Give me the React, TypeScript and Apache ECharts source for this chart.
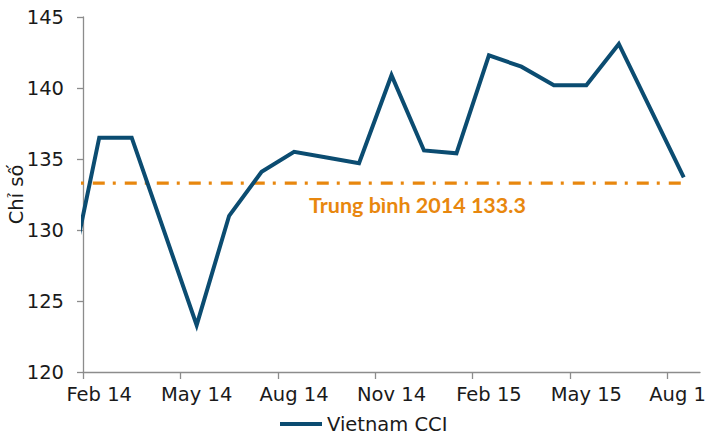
import React, { useEffect, useRef } from "react";
import * as echarts from "echarts";

// Monthly points, Jan 14 .. Aug 15 (Jan 14 lies left of the plot and is clipped)
const months = [
  "Jan 14", "Feb 14", "Mar 14", "Apr 14", "May 14", "Jun 14", "Jul 14", "Aug 14",
  "Sep 14", "Oct 14", "Nov 14", "Dec 14", "Jan 15", "Feb 15", "Mar 15", "Apr 15",
  "May 15", "Jun 15", "Jul 15", "Aug 15",
];
const cciValues = [
  125.5, 136.5, 136.5, 129.9, 123.3, 131.0, 134.1, 135.5,
  135.1, 134.7, 140.9, 135.6, 135.4, 142.3, 141.5, 140.2,
  140.2, 143.1, 138.4, 133.7,
];
const average2014 = 133.3;
const averageLabel = "Trung bình 2014 133.3";
const tickLabels = ["Feb 14", "May 14", "Aug 14", "Nov 14", "Feb 15", "May 15", "Aug 15"];
const seriesName = "Vietnam CCI";
const yAxisName = "Chỉ số";

export default function App() {
  const ref = useRef<HTMLDivElement>(null);
  useEffect(() => {
    if (!ref.current) return;
    const chart = echarts.init(ref.current, undefined, { renderer: "svg" });
    // month offset: Feb 14 starts at 0; each point sits at the middle of its month
    const lineData = cciValues.map((v, i) => [i - 1 + 0.5, v]);
    const tickPos = tickLabels.map((_, i) => i * 3);
    const labelPos = tickLabels.map((_, i) => i * 3 + 0.5);
    const font = "DejaVu Sans, Verdana, sans-serif";
    chart.setOption({
      animation: false,
      backgroundColor: "#ffffff",
      grid: {
        left: 83,
        right: 6,
        top: 17,
        bottom: 67,
        containLabel: false,
        outerBoundsMode: "none",
      },
      legend: {
        data: [seriesName],
        left: 275,
        bottom: 0,
        icon: "rect",
        itemWidth: 42,
        itemHeight: 4,
        itemGap: 10,
        textStyle: { fontFamily: font, fontSize: 19.5, color: "#1a1a1a" },
      },
      xAxis: {
        type: "value",
        min: 0,
        max: 19,
        interval: 3,
        splitLine: { show: false },
        axisLine: { show: true, lineStyle: { color: "#8c8c8c", width: 1.3 } },
        axisTick: {
          show: true,
          customValues: tickPos,
          length: 7,
          lineStyle: { color: "#8c8c8c", width: 1.3 },
        },
        axisLabel: {
          customValues: labelPos,
          margin: 12,
          fontFamily: font,
          fontSize: 19.5,
          color: "#1a1a1a",
          hideOverlap: false,
          formatter: (v: number) => tickLabels[Math.round((v - 0.5) / 3)] ?? "",
        },
      },
      yAxis: {
        type: "value",
        min: 120,
        max: 145,
        interval: 5,
        name: yAxisName,
        nameLocation: "middle",
        nameGap: 57,
        nameRotate: 90,
        nameMoveOverlap: false,
        nameTextStyle: { fontFamily: font, fontSize: 19.5, color: "#1a1a1a" },
        splitLine: { show: false },
        axisLine: { show: true, lineStyle: { color: "#8c8c8c", width: 1.3 } },
        axisTick: { show: true, length: 6, lineStyle: { color: "#8c8c8c", width: 1.3 } },
        axisLabel: {
          margin: 19,
          fontFamily: font,
          fontSize: 19.5,
          color: "#1a1a1a",
        },
      },
      series: [
        {
          name: "avg",
          type: "line",
          data: [
            [lineData[0][0], average2014],
            [lineData[lineData.length - 1][0], average2014],
          ],
          symbol: "none",
          clip: true,
          z: 1,
          lineStyle: {
            color: "#E8870E",
            width: 3.3,
            type: [12, 8, 3, 9],
            dashOffset: 6,
            cap: "butt",
          },
          markPoint: {
            symbol: "circle",
            symbolSize: 0,
            silent: true,
            data: [
              {
                coord: [10.3, average2014],
                label: {
                  show: true,
                  formatter: averageLabel,
                  offset: [0, 22],
                  fontFamily: "Lato, sans-serif",
                  fontWeight: "bold",
                  fontSize: 21.5,
                  color: "#E8870E",
                },
              },
            ],
          },
        },
        {
          name: seriesName,
          type: "line",
          data: lineData,
          symbol: "none",
          clip: true,
          z: 3,
          lineStyle: { color: "#0B4C71", width: 4, join: "miter" },
          itemStyle: { color: "#0B4C71" },
        },
      ],
    });
    return () => chart.dispose();
  }, []);
  return (
    <div
      ref={ref}
      style={{ position: "fixed", left: 0, top: 0, width: 706, height: 439 }}
    />
  );
}
